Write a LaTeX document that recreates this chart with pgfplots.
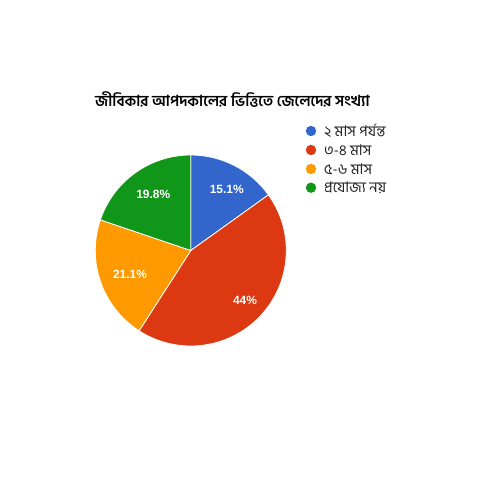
\documentclass[border=0pt]{standalone}
\usepackage{fontspec}
\setmainfont{Liberation Sans}
\newfontfamily\bn[Script=Bengali]{Hind Siliguri}
\usepackage{pgfplots}
\pgfplotsset{compat=1.18}
\definecolor{gblue}{HTML}{3366CC}
\definecolor{gred}{HTML}{DC3912}
\definecolor{gorange}{HTML}{FF9900}
\definecolor{ggreen}{HTML}{109618}
\definecolor{ltxt}{HTML}{222222}
\begin{document}
\begin{tikzpicture}
% slice values (percent)
\def\va{15.1}\def\vb{44}\def\vc{21.1}\def\vd{19.8}
\pgfmathsetmacro\aa{90}
\pgfmathsetmacro\ab{\aa-\va*3.6}
\pgfmathsetmacro\ac{\ab-\vb*3.6}
\pgfmathsetmacro\ad{\ac-\vc*3.6}
\pgfmathsetmacro\ae{\ad-\vd*3.6}
\def\R{95.5bp}
\begin{axis}[scale only axis, width=500bp, height=500bp,
  xmin=0, xmax=500, ymin=0, ymax=500, axis lines=none, clip=false]
\coordinate (C) at (axis cs:190.8,249.5);
\filldraw[fill=gblue, draw=white, line width=0.8pt] (C) -- ++(\aa:\R) arc[start angle=\aa, end angle=\ab, radius=\R] -- cycle;
\filldraw[fill=gred, draw=white, line width=0.8pt] (C) -- ++(\ab:\R) arc[start angle=\ab, end angle=\ac, radius=\R] -- cycle;
\filldraw[fill=gorange, draw=white, line width=0.8pt] (C) -- ++(\ac:\R) arc[start angle=\ac, end angle=\ad, radius=\R] -- cycle;
\filldraw[fill=ggreen, draw=white, line width=0.8pt] (C) -- ++(\ad:\R) arc[start angle=\ad, end angle=\ae, radius=\R] -- cycle;
% percentage labels
\node[white, font=\fontsize{12}{12}\selectfont\bfseries] at (axis cs:226.7,311) {15.1\%};
\node[white, font=\fontsize{12}{12}\selectfont\bfseries] at (axis cs:245,199.3) {44\%};
\node[white, font=\fontsize{12}{12}\selectfont\bfseries] at (axis cs:130,225.7) {21.1\%};
\node[white, font=\fontsize{12}{12}\selectfont\bfseries] at (axis cs:153.3,305.7) {19.8\%};
% title
\node[anchor=west, inner sep=0pt, font=\bn\bfseries\fontsize{15.3}{15.3}\selectfont] at (axis cs:95,400) {জীবিকার আপদকালের ভিত্তিতে জেলেদের সংখ্যা};
% legend
\fill[gblue] (axis cs:311,369) circle[radius=5.2bp];
\fill[gred] (axis cs:311,350) circle[radius=5.2bp];
\fill[gorange] (axis cs:311,331) circle[radius=5.2bp];
\fill[ggreen] (axis cs:311,312.3) circle[radius=5.2bp];
\node[anchor=west, inner sep=0pt, text=ltxt, font=\bn\fontsize{14.8}{14.8}\selectfont] at (axis cs:324,369) {২ মাস পর্যন্ত};
\node[anchor=west, inner sep=0pt, text=ltxt, font=\bn\fontsize{14.8}{14.8}\selectfont] at (axis cs:324,350) {৩-৪ মাস};
\node[anchor=west, inner sep=0pt, text=ltxt, font=\bn\fontsize{14.8}{14.8}\selectfont] at (axis cs:324,331) {৫-৬ মাস};
\node[anchor=west, inner sep=0pt, text=ltxt, font=\bn\fontsize{14.8}{14.8}\selectfont] at (axis cs:324,312.3) {প্রযোজ্য নয়};
\end{axis}
\pgfresetboundingbox
\path[use as bounding box] (0,0) rectangle (500bp,500bp);
\end{tikzpicture}
\end{document}
